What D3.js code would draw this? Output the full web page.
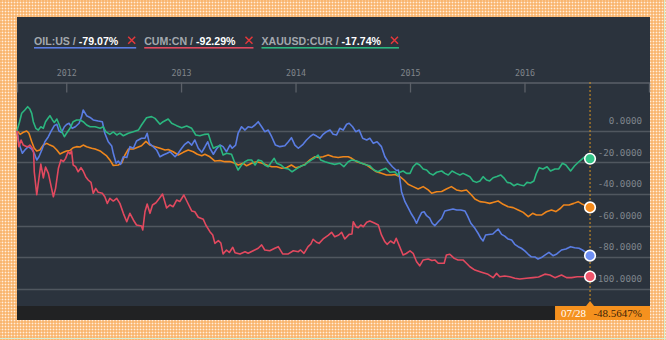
<!DOCTYPE html>
<html>
<head>
<meta charset="utf-8">
<script src="https://cdn.jsdelivr.net/npm/d3@7"></script>
<style>
  html, body { margin: 0; padding: 0; background: #fff; }
  svg { display: block; }
</style>
</head>
<body>
<svg id="chart" width="666" height="340"></svg>
<script>
// ---- data -------------------------------------------------------------
const startDate = "2011-07-28";
const endLabel = "07/28";
const yearTicks = [2012, 2013, 2014, 2015, 2016];
const valueTicks = [0, -20, -40, -60, -80, -100];

const legendNames = ["OIL:US", "CUM:CN", "XAUUSD:CUR"];
const legendChanges = [-79.07, -92.29, -17.74];
const cursorValue = -48.5647;

// each point: [days since startDate, % change]
const oilSeries = [
  [0,0],[6,-8.0],[17,-14.3],[25,-12.2],[36,-10.1],[47,-11.6],[55,-14.3],[63,-18.5],[70,-16.5],[79,-12.2],
  [89,-7.0],[100,-3.8],[108,-0.6],[119,3.2],[127,4.1],[134,-0.2],[142,-1.1],[151,2.5],[158,3.9],[166,4.7],
  [176,1.5],[186,2.5],[198,4.7],[206,8.9],[211,13.1],[222,9.5],[233,8.4],[243,6.8],[259,6.1],[272,5.7],
  [280,-1.6],[291,-7.0],[302,-9.7],[307,-14.3],[316,-20.6],[323,-19.2],[330,-21.3],[339,-16.5],[350,-17.0],[360,-10.1],
  [371,-11.1],[381,-6.5],[397,-4.8],[408,-4.8],[415,-1.6],[422,-8.0],[434,-10.1],[445,-12.2],[456,-16.5],[466,-15.4],
  [477,-14.4],[488,-13.3],[504,-16.5],[514,-14.3],[525,-11.1],[535,-8.6],[546,-7.0],[557,-9.1],[567,-5.9],[578,-11.1],
  [589,-13.7],[599,-10.3],[608,-7.0],[615,-11.1],[626,-14.9],[636,-11.6],[647,-9.1],[657,-10.1],[668,-13.3],[679,-9.1],
  [686,-11.1],[697,-9.1],[705,-1.6],[716,2.5],[727,0.4],[737,2.5],[748,2.0],[759,3.6],[769,5.7],[780,2.5],
  [790,-0.6],[801,0.4],[812,-3.8],[824,-9.1],[838,-10.1],[854,-9.5],[865,-7.0],[875,-4.4],[886,-9.1],[897,-11.1],
  [912,-8.6],[923,-5.9],[934,-3.8],[944,-2.3],[955,-3.4],[966,-4.8],[976,-2.3],[987,-0.6],[998,0.4],[1008,-2.3],
  [1019,-2.7],[1029,1.5],[1040,0.4],[1051,4.1],[1059,4.7],[1070,2.5],[1080,-0.6],[1091,0.4],[1102,-4.8],[1115,-5.9],
  [1125,-4.8],[1136,-8.0],[1148,-7.0],[1162,-10.1],[1173,-16.5],[1183,-19.6],[1197,-22.8],[1210,-25.2],[1216,-24.9],[1221,-31.2],
  [1226,-38.6],[1237,-44.9],[1247,-48.7],[1258,-52.9],[1266,-55.4],[1274,-58.6],[1281,-55.3],[1290,-51.8],[1298,-51.3],[1306,-53.8],
  [1316,-55.4],[1324,-58.6],[1332,-60.1],[1343,-57.6],[1354,-55.4],[1364,-50.8],[1377,-50.2],[1390,-49.6],[1402,-50.2],[1415,-50.2],
  [1428,-50.8],[1436,-53.8],[1447,-58.6],[1460,-61.8],[1470,-64.9],[1479,-68.1],[1486,-69.8],[1494,-66.0],[1504,-65.7],[1517,-65.4],
  [1534,-62.2],[1545,-65.6],[1555,-66.7],[1566,-68.6],[1577,-69.2],[1587,-71.9],[1598,-73.4],[1608,-74.4],[1619,-76.1],[1630,-78.2],
  [1640,-79.8],[1651,-79.9],[1661,-81.2],[1672,-80.3],[1683,-78.7],[1696,-77.0],[1709,-79.1],[1721,-78.0],[1736,-75.5],[1750,-74.9],
  [1765,-73.4],[1778,-74.1],[1792,-74.4],[1803,-75.5],[1827,-79.07]
];

const cumSeries = [
  [0,0],[6,-10.1],[13,-5.9],[20,-9.1],[31,-10.1],[36,-10.1],[41,-9.1],[49,-11.1],[53,-13.5],[55,-26.0],
  [63,-40.5],[70,-30.1],[76,-21.1],[84,-29.9],[91,-23.0],[100,-27.0],[108,-34.4],[116,-41.8],[123,-36.5],[132,-23.8],
  [140,-18.5],[148,-19.5],[155,-17.5],[163,-13.3],[169,-14.7],[174,-12.8],[179,-21.7],[187,-22.7],[195,-26.0],[204,-23.4],
  [211,-25.5],[219,-29.1],[227,-31.2],[236,-32.7],[243,-39.6],[251,-36.5],[259,-39.0],[272,-39.6],[280,-41.8],[288,-46.0],
  [296,-42.8],[307,-44.5],[318,-42.8],[328,-46.0],[339,-52.3],[350,-57.6],[360,-52.3],[371,-56.5],[381,-59.7],[397,-60.3],
  [401,-62.8],[408,-51.3],[415,-46.4],[424,-52.3],[432,-47.0],[443,-45.6],[454,-42.8],[464,-40.1],[477,-48.9],[488,-47.0],
  [498,-48.1],[509,-43.9],[519,-44.8],[532,-40.7],[546,-46.4],[557,-50.8],[567,-51.3],[578,-54.8],[594,-56.1],[602,-59.7],
  [615,-63.9],[624,-66.0],[631,-71.3],[642,-69.6],[650,-71.1],[657,-78.0],[668,-75.5],[677,-77.1],[688,-73.8],[695,-77.2],
  [711,-78.0],[727,-76.6],[737,-77.6],[753,-76.0],[769,-74.4],[780,-72.3],[790,-75.5],[806,-76.0],[822,-74.4],[833,-73.4],
  [847,-78.0],[865,-78.0],[881,-76.0],[897,-76.6],[904,-75.5],[915,-77.6],[928,-73.4],[937,-71.7],[944,-68.7],[955,-70.6],
  [963,-71.3],[976,-68.5],[992,-66.3],[1003,-64.3],[1013,-67.1],[1026,-66.0],[1035,-64.3],[1045,-68.5],[1059,-65.6],[1068,-65.4],
  [1072,-57.6],[1081,-60.8],[1088,-61.4],[1096,-59.7],[1104,-60.8],[1115,-58.0],[1125,-57.2],[1141,-58.6],[1152,-59.7],[1162,-66.0],
  [1173,-70.3],[1180,-71.9],[1191,-69.8],[1202,-71.3],[1209,-68.1],[1220,-73.4],[1231,-78.7],[1241,-77.7],[1253,-76.1],[1263,-77.6],
  [1274,-82.9],[1284,-85.5],[1295,-81.8],[1311,-81.2],[1323,-82.2],[1332,-81.8],[1343,-83.9],[1362,-83.9],[1369,-78.7],[1380,-78.2],
  [1394,-80.8],[1406,-81.8],[1422,-81.8],[1433,-83.9],[1444,-86.1],[1460,-88.2],[1481,-89.6],[1502,-90.9],[1518,-93.0],[1529,-90.3],
  [1539,-92.4],[1555,-92.0],[1571,-92.4],[1587,-93.4],[1603,-93.9],[1624,-93.4],[1645,-93.0],[1663,-92.6],[1683,-90.8],[1699,-91.3],
  [1715,-93.0],[1736,-91.3],[1752,-93.0],[1768,-93.0],[1786,-92.4],[1805,-92.4],[1827,-92.29]
];

const xauSeries = [
  [0,0],[8,5.5],[15,11.0],[25,13.1],[34,15.2],[41,13.7],[47,11.0],[52,5.7],[60,1.5],[68,0.4],
  [76,2.5],[84,1.5],[91,5.7],[100,8.2],[105,9.5],[113,6.8],[119,5.2],[127,7.4],[134,4.1],[142,-0.2],
  [151,-3.8],[158,-1.6],[169,1.5],[179,5.7],[190,6.8],[201,6.8],[211,5.7],[222,3.6],[233,2.5],[249,2.5],
  [265,1.5],[275,2.5],[283,-0.6],[296,-2.3],[307,-0.8],[318,-2.7],[328,-1.5],[339,-3.2],[355,-1.6],[371,-0.6],
  [387,0.4],[397,3.6],[413,8.2],[429,8.9],[440,7.8],[456,4.1],[466,5.7],[482,7.4],[493,4.7],[509,3.2],
  [525,1.9],[541,3.0],[557,1.5],[570,-2.7],[583,-3.2],[599,-2.3],[610,-2.1],[618,-7.0],[626,-11.1],[636,-10.1],
  [647,-9.5],[657,-15.4],[668,-14.3],[684,-14.9],[695,-20.6],[705,-24.9],[716,-21.7],[727,-19.6],[737,-18.5],[748,-18.5],
  [759,-21.7],[769,-18.5],[780,-19.2],[790,-21.7],[801,-22.8],[812,-19.6],[820,-17.5],[828,-20.6],[841,-21.7],[854,-23.8],
  [865,-24.2],[877,-26.0],[891,-24.2],[907,-22.2],[918,-21.7],[923,-20.6],[939,-18.5],[950,-17.1],[960,-15.4],[968,-18.5],
  [982,-19.6],[998,-20.6],[1013,-21.3],[1029,-20.6],[1042,-22.8],[1056,-19.6],[1067,-18.5],[1083,-19.2],[1099,-20.6],[1115,-21.7],
  [1125,-22.2],[1138,-24.9],[1151,-26.0],[1162,-24.9],[1176,-23.8],[1189,-26.3],[1205,-26.0],[1213,-28.0],[1221,-26.3],[1231,-25.5],
  [1242,-27.0],[1253,-27.0],[1263,-22.8],[1274,-20.6],[1284,-21.7],[1295,-24.2],[1306,-24.9],[1316,-27.0],[1327,-28.0],[1338,-26.3],
  [1354,-25.5],[1364,-27.0],[1375,-28.0],[1387,-25.5],[1401,-27.0],[1412,-28.0],[1422,-27.0],[1433,-28.0],[1444,-29.1],[1454,-31.8],
  [1465,-32.7],[1476,-31.8],[1486,-29.1],[1497,-31.2],[1507,-31.8],[1518,-29.8],[1530,-29.0],[1542,-28.0],[1552,-29.8],[1563,-32.7],
  [1573,-33.1],[1584,-34.8],[1595,-33.7],[1605,-34.4],[1616,-34.8],[1626,-32.7],[1637,-33.1],[1648,-31.8],[1656,-27.0],[1665,-23.4],
  [1677,-24.2],[1690,-22.8],[1701,-25.5],[1715,-24.2],[1727,-24.2],[1739,-20.6],[1750,-21.7],[1765,-25.5],[1778,-22.2],[1794,-19.2],
  [1810,-16.5],[1827,-17.74]
];

const mainSeries = [
  [0,0],[10,-2.3],[20,-1.0],[31,-0.2],[38,-1.6],[47,-7.0],[55,-11.1],[63,-12.8],[73,-12.2],[84,-9.1],
  [95,-8.0],[105,-9.1],[116,-10.0],[127,-12.2],[137,-14.7],[148,-13.7],[158,-12.8],[169,-12.5],[179,-10.8],[190,-10.1],
  [201,-10.3],[211,-9.1],[222,-10.1],[238,-11.1],[249,-11.6],[265,-12.8],[275,-14.3],[286,-16.0],[296,-18.5],[307,-22.0],
  [323,-21.7],[334,-20.4],[344,-15.4],[355,-11.6],[371,-11.6],[381,-10.8],[397,-9.5],[411,-6.8],[424,-9.1],[440,-10.1],
  [456,-11.1],[472,-12.2],[482,-11.9],[498,-13.3],[514,-15.4],[530,-13.7],[546,-12.2],[562,-13.3],[575,-14.9],[589,-15.8],
  [599,-14.9],[615,-16.5],[631,-19.2],[647,-18.9],[663,-19.6],[679,-19.5],[695,-20.6],[705,-21.7],[721,-20.6],[732,-22.2],
  [748,-20.6],[764,-19.6],[780,-20.4],[796,-21.7],[812,-22.8],[828,-22.8],[844,-23.8],[860,-23.3],[875,-21.7],[888,-23.4],
  [902,-22.8],[918,-21.3],[934,-18.5],[950,-16.5],[960,-17.0],[976,-16.5],[992,-15.4],[1008,-16.5],[1024,-17.0],[1040,-16.5],
  [1056,-16.5],[1067,-17.5],[1083,-19.6],[1099,-20.6],[1115,-21.7],[1130,-23.8],[1146,-26.0],[1162,-27.0],[1178,-28.0],[1194,-28.0],
  [1205,-27.7],[1221,-29.1],[1234,-31.2],[1247,-33.9],[1263,-35.4],[1279,-36.9],[1295,-35.4],[1311,-37.5],[1322,-39.6],[1338,-38.6],
  [1354,-38.5],[1369,-36.9],[1385,-35.4],[1401,-37.5],[1417,-38.2],[1433,-37.5],[1449,-40.7],[1460,-43.2],[1476,-44.9],[1492,-45.3],
  [1507,-46.0],[1520,-45.3],[1534,-44.5],[1550,-46.6],[1566,-48.1],[1582,-48.7],[1598,-50.2],[1614,-51.7],[1630,-54.4],[1644,-52.3],
  [1656,-53.4],[1672,-53.4],[1688,-51.3],[1704,-50.2],[1718,-51.2],[1733,-49.1],[1743,-47.0],[1760,-47.0],[1775,-46.0],[1789,-44.9],
  [1803,-46.6],[1827,-48.5647]
];

// ---- layout -----------------------------------------------------------
const W = 666, H = 340;
const panel = { x0: 17, y0: 17, x1: 650, y1: 320 };
const axisY = 82;
const footerTop = 306;

const colors = { oil: "#5a7de3", cum: "#e2495f", xau: "#2bb67f", main: "#ef861c" };
const dotColors = { oil: "#6e8ff4", cum: "#f0566c", xau: "#33c488", main: "#f38a1c" };

const parse = d3.utcParse("%Y-%m-%d");
const t0 = parse(startDate);
const toDate = d => d3.utcDay.offset(t0, d);

const x = d3.scaleUtc()
  .domain([t0, parse("2017-02-01")])
  .range([panel.x0, panel.x1 - 1]);

const y = d3.scaleLinear()
  .domain([-100, 0])
  .range([288.7, 130.7]);

const svg = d3.select("#chart");
const defs = svg.append("defs");

// gingham backdrop
const pat = defs.append("pattern")
  .attr("id", "gingham").attr("patternUnits", "userSpaceOnUse")
  .attr("width", 3).attr("height", 3);
pat.append("rect").attr("width", 3).attr("height", 3).attr("fill", "#ffeedd");
pat.append("rect").attr("width", 2).attr("height", 3).attr("fill", "rgba(249,172,92,0.6)");
pat.append("rect").attr("width", 3).attr("height", 2).attr("fill", "rgba(249,172,92,0.6)");

svg.append("rect").attr("width", W).attr("height", H).attr("fill", "url(#gingham)");
svg.append("line").attr("x1", 0).attr("x2", W).attr("y1", H - 1.5).attr("y2", H - 1.5)
  .attr("stroke", "#d4ecd2").attr("stroke-width", 1);
svg.append("line").attr("x1", W - 1.5).attr("x2", W - 1.5).attr("y1", 0).attr("y2", H)
  .attr("stroke", "#d4ecd2").attr("stroke-width", 1);

// dark panel
svg.append("rect")
  .attr("x", panel.x0).attr("y", panel.y0)
  .attr("width", panel.x1 - panel.x0).attr("height", panel.y1 - panel.y0)
  .attr("fill", "#2b333d");
svg.append("rect")
  .attr("x", panel.x0).attr("y", footerTop)
  .attr("width", panel.x1 - panel.x0).attr("height", panel.y1 - footerTop)
  .attr("fill", "#212223");

// horizontal grid
svg.append("g").selectAll("line").data(valueTicks).join("line")
  .attr("x1", panel.x0).attr("x2", panel.x1)
  .attr("y1", d => Math.round(y(d)) + 0.5).attr("y2", d => Math.round(y(d)) + 0.5)
  .attr("stroke", "#50575f").attr("stroke-width", 1.3);

// value labels (sit above their grid line)
svg.append("g").selectAll("text").data(valueTicks).join("text")
  .attr("x", 642).attr("y", d => y(d) - 10)
  .attr("dy", "0.35em")
  .attr("text-anchor", "end")
  .attr("font-family", "'DejaVu Sans Mono', monospace")
  .attr("font-size", 9.2)
  .attr("fill", "#7f858c")
  .text(d => d.toFixed(4));

// time axis along the top
const xAxis = d3.axisTop(x)
  .tickValues(yearTicks.map(yr => new Date(Date.UTC(yr, 0, 1))))
  .tickFormat(d3.utcFormat("%Y"))
  .tickSizeInner(-10)
  .tickSizeOuter(-10)
  .tickPadding(7);
const gx = svg.append("g").attr("transform", `translate(0,${axisY + 0.5})`).call(xAxis);
gx.select(".domain").attr("stroke", "#5b6068").attr("stroke-width", 1.3);
gx.selectAll(".tick line").attr("stroke", "#5b6068").attr("stroke-width", 1.3);
gx.selectAll(".tick text")
  .attr("fill", "#80858b")
  .attr("font-family", "'DejaVu Sans Mono', monospace")
  .attr("font-size", 8.3);

// series lines
const line = d3.line()
  .x(d => x(toDate(d[0])))
  .y(d => y(d[1]));

const series = [
  { key: "main", data: mainSeries },
  { key: "oil", data: oilSeries },
  { key: "cum", data: cumSeries },
  { key: "xau", data: xauSeries }
];

svg.append("g").selectAll("path").data(series).join("path")
  .attr("d", s => line(s.data))
  .attr("fill", "none")
  .attr("stroke", s => colors[s.key])
  .attr("stroke-width", 1.6)
  .attr("stroke-linejoin", "round");

// cursor at the latest date
const lastDay = mainSeries[mainSeries.length - 1][0];
const cx = x(toDate(lastDay));
svg.append("line")
  .attr("x1", cx).attr("x2", cx).attr("y1", axisY).attr("y2", footerTop - 4)
  .attr("stroke", "#d99520").attr("stroke-width", 1)
  .attr("stroke-dasharray", "2,2");

// end markers
svg.append("g").selectAll("circle").data(series).join("circle")
  .attr("cx", s => x(toDate(s.data[s.data.length - 1][0])))
  .attr("cy", s => y(s.data[s.data.length - 1][1]))
  .attr("r", 5.3)
  .attr("fill", s => dotColors[s.key])
  .attr("stroke", "#fff")
  .attr("stroke-width", 1.6);

// cursor readout in the footer
const boxX = cx - 35;
svg.append("rect")
  .attr("x", boxX).attr("y", footerTop)
  .attr("width", panel.x1 - boxX).attr("height", panel.y1 - footerTop)
  .attr("fill", "#f5911e");
svg.append("path")
  .attr("d", `M${cx - 4},${footerTop} L${cx},${footerTop - 5} L${cx + 4},${footerTop} Z`)
  .attr("fill", "#f5911e");
svg.append("text")
  .attr("x", boxX + 6).attr("y", footerTop + 11)
  .attr("font-family", "'Liberation Serif', serif").attr("font-size", 11)
  .attr("fill", "#fff")
  .text(endLabel);
svg.append("text")
  .attr("x", 642).attr("y", footerTop + 11)
  .attr("text-anchor", "end")
  .attr("font-family", "'Liberation Serif', serif").attr("font-size", 11)
  .attr("fill", "#3d2408")
  .text(cursorValue.toFixed(4) + "%");

// legend
const legendKeys = ["oil", "cum", "xau"];
const lg = svg.append("g").attr("font-family", "'Liberation Sans', Arial, sans-serif")
  .attr("font-size", 10.6).attr("font-weight", "bold");
let lx = 34;
legendNames.forEach((name, i) => {
  const t = lg.append("text").attr("x", lx).attr("y", 44.5);
  t.append("tspan").attr("fill", "#a3a8ae").text(name + " / ");
  t.append("tspan").attr("fill", "#ffffff").text(legendChanges[i].toFixed(2) + "%");
  const tw = t.node().getComputedTextLength();
  const xx = lx + tw + 10;
  const cyx = 40.2;
  lg.append("path")
    .attr("d", `M${xx},${cyx - 3.5} L${xx + 7},${cyx + 3.5} M${xx + 7},${cyx - 3.5} L${xx},${cyx + 3.5}`)
    .attr("stroke", "#e5383b").attr("stroke-width", 1.5).attr("fill", "none");
  const end = xx + 8;
  lg.append("rect")
    .attr("x", lx).attr("y", 47).attr("width", end - lx).attr("height", 1.6)
    .attr("fill", colors[legendKeys[i]]);
  lx = end + 8;
});
</script>
</body>
</html>
